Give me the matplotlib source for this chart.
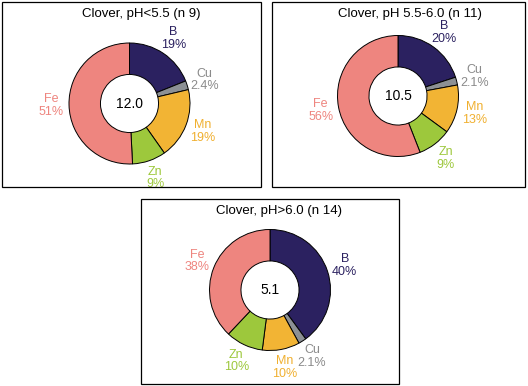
import numpy as np
import matplotlib
matplotlib.use("Agg")
import matplotlib.pyplot as plt
from matplotlib.patches import Rectangle

plt.rcParams['font.family'] = ['Liberation Sans', 'DejaVu Sans']

# ---- data ----
nutrients = ["B", "Cu", "Mn", "Zn", "Fe"]
titles = ["Clover, pH<5.5 (n 9)", "Clover, pH 5.5-6.0 (n 11)", "Clover, pH>6.0 (n 14)"]
center_values = ["12.0", "10.5", "5.1"]
shares_ph_low = [19, 2.4, 19, 9, 51]
shares_ph_mid = [20, 2.1, 13, 9, 56]
shares_ph_high = [40, 2.1, 10, 10, 38]
all_shares = [shares_ph_low, shares_ph_mid, shares_ph_high]

colors = ["#2B2160", "#8C9094", "#F2B434", "#9DC83C", "#EE857F"]
label_colors = ["#2B2160", "#8A8A8A", "#F0B030", "#9DC83C", "#EE857F"]

# ---- layout (pixels) ----
W, H = 528, 386
panels = [(2, 2, 259, 185), (272, 2, 253, 185), (141, 199, 258, 185)]
pie_centers = [(129.5, 103.5), (398, 96), (270, 290)]
pie_r = 60.5
title_pos = [(141, 13.5), (410, 13.5), (279.5, 211)]

fig = plt.figure(figsize=(W / 100, H / 100), dpi=100)

for (px, py, pw, ph) in panels:
    fig.patches.append(Rectangle((px / W, 1 - (py + ph) / H), pw / W, ph / H,
                                 transform=fig.transFigure, fill=False,
                                 ec="black", lw=0.9))

for i in range(3):
    cx, cy = pie_centers[i]
    m = 1.7
    ax = fig.add_axes([(cx - m * pie_r) / W, 1 - (cy + m * pie_r) / H,
                       2 * m * pie_r / W, 2 * m * pie_r / H])
    wedges, _ = ax.pie(all_shares[i], colors=colors, startangle=90,
                       counterclock=False, radius=1,
                       wedgeprops=dict(width=0.52, edgecolor="black", linewidth=0.7))
    ax.set_xlim(-m, m)
    ax.set_ylim(-m, m)
    ax.set_aspect("equal")
    ax.axis("off")
    for w, name, v, lc in zip(wedges, nutrients, all_shares[i], label_colors):
        ang = np.deg2rad((w.theta1 + w.theta2) / 2)
        ax.text(1.3 * np.cos(ang), 1.3 * np.sin(ang), f"{name}\n{v:g}%",
                ha="center", va="center", color=lc, fontsize=9,
                linespacing=1.05, multialignment="center", clip_on=False)
    ax.text(0, 0, center_values[i], ha="center", va="center", fontsize=10, color="black")
    tx, ty = title_pos[i]
    fig.text(tx / W, 1 - ty / H, titles[i], ha="center", va="center", fontsize=9.5)

fig.savefig("out.png", dpi=100)
